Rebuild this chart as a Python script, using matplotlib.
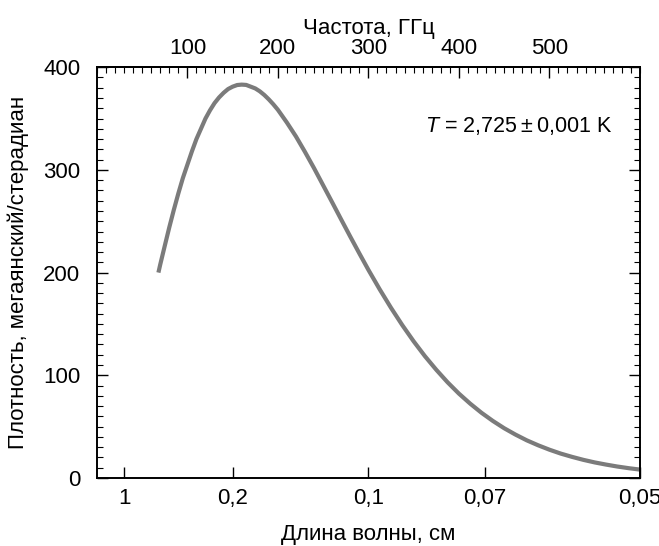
import matplotlib.pyplot as plt
from matplotlib.ticker import MultipleLocator, NullLocator

plt.rcParams["font.family"] = ["Liberation Sans", "DejaVu Sans"]
plt.rcParams["mathtext.fontset"] = "custom"
plt.rcParams["mathtext.it"] = "Liberation Sans:italic"
plt.rcParams["mathtext.rm"] = "Liberation Sans"

# spectrum: frequency (GHz) vs intensity (MJy/sr)
freq_ghz = [68, 70, 75, 80, 85, 90, 95, 100, 105, 110, 115, 120, 125, 130, 135,
            140, 145, 150, 155, 160, 165, 170, 175, 180, 185, 190, 195, 200,
            210, 220, 230, 240, 250, 260, 270, 280, 290, 300, 312.5, 325,
            337.5, 350, 362.5, 375, 387.5, 400, 412.5, 425, 437.5, 450, 462.5,
            475, 487.5, 500, 512.5, 525, 537.5, 550, 562.5, 575, 587.5, 600]
intensity = [200, 207.8, 226, 244, 261, 277, 292, 305, 318, 330, 340, 350, 358,
             365, 370.5, 375, 378.7, 381, 382.6, 383, 382.7, 381, 379.3, 376.5,
             372.9, 368.6, 363.8, 358.5, 346, 332.5, 317.4, 301.6, 285, 268.4,
             251.6, 235, 218.7, 202.7, 183.7, 165.7, 148.8, 133.1, 118.6,
             105.4, 93.2, 82.2, 72.4, 63.5, 55.6, 48.5, 42.3, 36.7, 31.9, 27.6,
             23.8, 20.6, 17.7, 15.2, 13.1, 11.2, 9.6, 8.2]

freq_ticks = [100, 200, 300, 400, 500]
wavelength_cm = [1, 0.2, 0.1, 0.07, 0.05]
wavelength_labels = ["1", "0,2", "0,1", "0,07", "0,05"]
c_cm_ghz = 30.0  # c in cm*GHz

fig = plt.figure(figsize=(6.59, 5.46), dpi=100)
ax = fig.add_axes([0.147, 0.1245, 0.824, 0.7525])

ax.plot(freq_ghz, intensity, color="#7b7b7b", lw=3.0,
        solid_capstyle="butt", solid_joinstyle="round")

ax.set_xlim(0, 600)
ax.set_ylim(0, 400)

# bottom: wavelength
ax.set_xticks([c_cm_ghz / w for w in wavelength_cm])
ax.set_xticklabels(wavelength_labels)
ax.xaxis.set_minor_locator(NullLocator())
ax.set_xlabel("Длина волны, см", fontsize=16, labelpad=11)

# left/right: intensity
ax.yaxis.set_major_locator(MultipleLocator(100))
ax.yaxis.set_minor_locator(MultipleLocator(10))
ax.set_ylabel("Плотность, мегаянский/стерадиан", fontsize=16, labelpad=10)
ax.tick_params(axis="y", which="both", direction="in", left=True, right=True)
ax.tick_params(axis="y", which="major", length=8, width=1, labelsize=16, pad=12)
ax.tick_params(axis="y", which="minor", length=4, width=0.8)
ax.tick_params(axis="x", which="major", direction="in", length=8, width=1,
               labelsize=16, pad=7)

# top: frequency
top = ax.secondary_xaxis("top")
top.set_xticks(freq_ticks)
top.xaxis.set_minor_locator(MultipleLocator(10))
top.tick_params(which="both", direction="in")
top.tick_params(which="major", length=8, width=1, labelsize=16, pad=6)
top.tick_params(which="minor", length=4, width=0.8)
top.set_xlabel("Частота, ГГц", fontsize=16, labelpad=3)

for s in ax.spines.values():
    s.set_linewidth(1.4)
top.spines["top"].set_linewidth(1.4)

ax.text(570, 343, "$\\mathit{T}$ = 2,725\u2009±\u20090,001 K", fontsize=15.5,
        ha="right", va="center")

fig.savefig("out.png", dpi=100)
